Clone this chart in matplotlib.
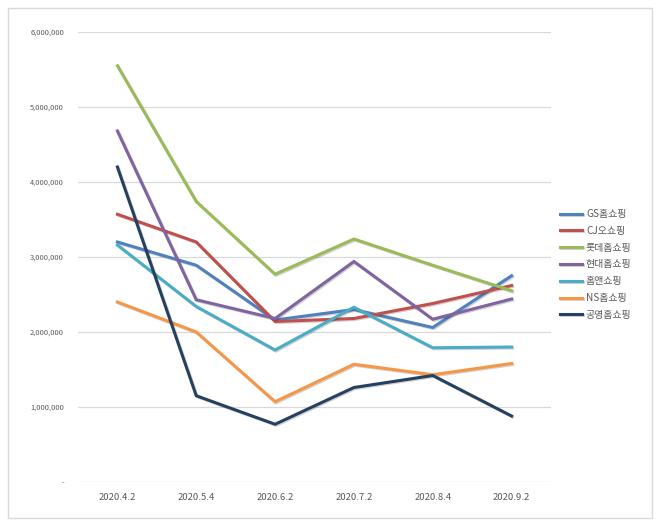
import matplotlib.pyplot as plt
import matplotlib.patheffects as pe
from matplotlib.patches import Rectangle
from matplotlib.ticker import FuncFormatter

plt.rcParams['font.family'] = ['Noto Sans CJK KR', 'DejaVu Sans']

dates = ['2020.4.2', '2020.5.4', '2020.6.2', '2020.7.2', '2020.8.4', '2020.9.2']

gs = [3200000, 2890000, 2160000, 2300000, 2060000, 2750000]
cj = [3570000, 3200000, 2140000, 2180000, 2380000, 2620000]
lotte = [5550000, 3740000, 2770000, 3240000, 2890000, 2550000]
hyundai = [4680000, 2430000, 2180000, 2940000, 2170000, 2440000]
homeand = [3160000, 2340000, 1760000, 2330000, 1790000, 1800000]
ns = [2400000, 2000000, 1070000, 1570000, 1430000, 1580000]
gongyoung = [4200000, 1150000, 770000, 1260000, 1420000, 880000]

names = ['GS홈쇼핑', 'CJ오쇼핑', '롯데홈쇼핑', '현대홈쇼핑', '홈앤쇼핑', 'NS홈쇼핑', '공영홈쇼핑']
series = [gs, cj, lotte, hyundai, homeand, ns, gongyoung]
colors = ['#4F81BD', '#C0504D', '#9BBB59', '#8064A2', '#4BACC6', '#F79646', '#254061']

fig = plt.figure(figsize=(6.6, 5.26), dpi=100)
fig.patches.append(Rectangle((8 / 660, 8 / 526), 644 / 660, 510 / 526,
                             transform=fig.transFigure, fill=False,
                             edgecolor='#D9D9D9', linewidth=1))

ax = fig.add_axes([78 / 660, 44 / 526, 473 / 660, 450 / 526])
x = list(range(len(dates)))
shadow = [pe.SimpleLineShadow(offset=(0.8, -0.8), alpha=0.18), pe.Normal()]
for name, vals, c in zip(names, series, colors):
    ax.plot(x, vals, color=c, linewidth=2.2, label=name, path_effects=shadow,
            solid_joinstyle='miter')

ax.set_xlim(-0.5, 5.5)
ax.set_ylim(0, 6000000)
ax.set_yticks(range(0, 6000001, 1000000))
ax.yaxis.set_major_formatter(FuncFormatter(lambda v, p: '-' if v == 0 else f'{int(v):,}'))
ax.set_xticks(x)
ax.set_xticklabels(dates)
ax.grid(axis='y', color='#D9D9D9', linewidth=0.9)
ax.set_axisbelow(True)
for s in ax.spines.values():
    s.set_visible(False)
ax.tick_params(axis='y', length=0, labelsize=5.4, labelcolor='#595959', pad=10)
ax.tick_params(axis='x', length=0, labelsize=6.8, labelcolor='#595959', pad=8)

fig.legend(loc='upper left', bbox_to_anchor=(560 / 660, 1 - 209 / 526),
           frameon=False, fontsize=7.2, handlelength=2.2, handletextpad=0.4,
           labelspacing=0.68, borderaxespad=0, borderpad=0,
           labelcolor='#595959')

fig.savefig('out.png', dpi=100)
